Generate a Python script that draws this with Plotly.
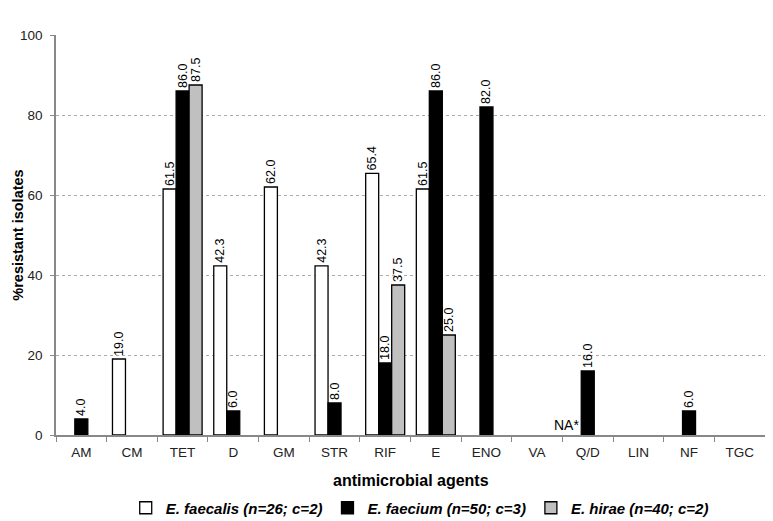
import plotly.graph_objects as go

agents = ['AM', 'CM', 'TET', 'D', 'GM', 'STR', 'RIF', 'E', 'ENO', 'VA', 'Q/D', 'LIN', 'NF', 'TGC']

faecalis = [None, 19.0, 61.5, 42.3, 62.0, 42.3, 65.4, 61.5, None, None, None, None, None, None]
faecium  = [4.0, None, 86.0, 6.0, None, 8.0, 18.0, 86.0, 82.0, None, 16.0, None, 6.0, None]
hirae    = [None, None, 87.5, None, None, None, 37.5, 25.0, None, None, None, None, None, None]

names = ['E. faecalis (n=26; c=2)', 'E. faecium (n=50; c=3)', 'E. hirae (n=40; c=2)']
fills = ['white', 'black', '#c0c0c0']

font = 'Liberation Sans, Arial, sans-serif'

fig = go.Figure()
for vals, nm, col in zip([faecalis, faecium, hirae], names, fills):
    fig.add_trace(go.Bar(
        x=agents, y=vals, name=nm,
        marker=dict(color=col, line=dict(color='black', width=1.3)),
        text=[f'{v:.1f}' if v is not None else '' for v in vals],
        textposition='outside', textangle=-90, constraintext='none',
        textfont=dict(family=font, size=12.5, color='black'),
        cliponaxis=False,
    ))

# Q/D was not tested for E. faecalis
fig.add_annotation(x='Q/D', y=0, text='NA*', showarrow=False,
                   xanchor='right', yanchor='bottom', xshift=-7, yshift=0,
                   font=dict(family=font, size=14, color='black'))

# axis titles
fig.add_annotation(xref='paper', yref='paper', x=-0.054, y=0.5, text='%resistant isolates',
                   textangle=-90, showarrow=False, xanchor='center', yanchor='middle',
                   font=dict(family=font, size=14.5, color='black', weight='bold'))
fig.add_annotation(xref='paper', yref='paper', x=0.5, y=-0.1125, text='antimicrobial agents',
                   showarrow=False, xanchor='center', yanchor='middle',
                   font=dict(family=font, size=16, color='black', weight='bold'))

# page body adds an 8px offset, so the figure is drawn 8px smaller
fig.update_layout(
    width=765, height=513,
    margin=dict(l=48, r=8, t=27, b=86, autoexpand=False),
    paper_bgcolor='white', plot_bgcolor='white',
    barmode='group', bargap=0.23, bargroupgap=0,
    font=dict(family=font, color='#222'),
    showlegend=True,
    legend=dict(orientation='h', x=0.513, xanchor='center', y=-0.1825, yanchor='middle',
                font=dict(family=font, size=15, color='black', style='italic', weight='bold'),
                itemwidth=30, traceorder='normal'),
)

fig.update_xaxes(
    type='category', tickson='boundaries', ticks='outside', ticklen=5,
    tickcolor='#888', showline=True, linecolor='#888', linewidth=1.5,
    ticklabelstandoff=4,
    tickfont=dict(family=font, size=13.5, color='#222'), automargin=False,
)

fig.update_yaxes(
    range=[0, 100], dtick=20, ticks='outside', ticklen=4, tickcolor='#888',
    showline=True, linecolor='#888', linewidth=1.5,
    showgrid=True, gridcolor='#aaa', griddash='dot', gridwidth=1,
    zeroline=False, ticklabelstandoff=5, automargin=False,
    tickfont=dict(family=font, size=13.5, color='#222'),
)

fig.write_html('out.html')
